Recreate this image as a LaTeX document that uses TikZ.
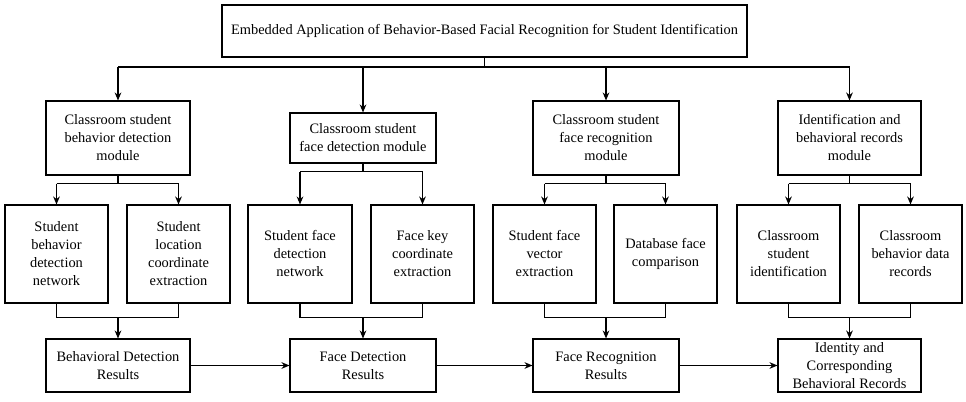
\documentclass[tikz,border=0pt]{standalone}
\usepackage{fontspec}
\setmainfont{Liberation Serif}
\usetikzlibrary{arrows.meta}
\begin{document}
\begin{tikzpicture}[x=0.75pt,y=-0.75pt,
  bx/.style={draw,line width=0.8pt,align=center,inner sep=1pt,font=\fontsize{10.8}{13.5}\selectfont},
  ar/.style={line width=0.8pt,-{Stealth[length=6pt,width=5pt]}},
  ln/.style={line width=0.8pt}]
\useasboundingbox (0,0) rectangle (966,402);
\newcommand\bx[6]{\node[bx,minimum width=#4*0.75pt,minimum height=#5*0.75pt] (#1) at (#2,#3) {#6};}
\bx{top}{484.5}{31}{525}{52}{Embedded Application of Behavior-Based Facial Recognition for Student Identification}
\bx{m1}{118}{138}{144}{74}{Classroom student\\behavior detection\\module}
\bx{m2}{363}{138}{146}{50}{Classroom student\\face detection module}
\bx{m3}{606}{138}{146}{74}{Classroom student\\face recognition\\module}
\bx{m4}{849.5}{138}{143}{74}{Identification and\\behavioral records\\module}
\bx{a1}{56.5}{254}{103}{98}{Student\\behavior\\detection\\network}
\bx{a2}{178.5}{254}{103}{98}{Student\\location\\coordinate\\extraction}
\bx{b1}{300}{254}{104}{98}{Student face\\detection\\network}
\bx{b2}{422.5}{254}{103}{98}{Face key\\coordinate\\extraction}
\bx{c1}{544.5}{254}{103}{98}{Student face\\vector\\extraction}
\bx{c2}{665.5}{254}{103}{98}{Database face\\comparison}
\bx{d1}{788.5}{254}{103}{98}{Classroom\\student\\identification}
\bx{d2}{910.5}{254}{103}{98}{Classroom\\behavior data\\records}
\bx{r1}{118}{365.5}{144}{53}{Behavioral Detection\\Results}
\bx{r2}{363}{365.5}{146}{53}{Face Detection\\Results}
\bx{r3}{606}{365.5}{146}{53}{Face Recognition\\Results}
\bx{r4}{849.5}{365.5}{143}{53}{Identity and\\Corresponding\\Behavioral Records}
\coordinate (h) at (484.5,67);
\draw[ln] (top.south) -- (h);
\draw[ln] (118,67) -- (849.5,67);
\foreach \m in {m1,m2,m3,m4} \draw[ar] (\m.north |- h) -- (\m.north);
\foreach \m/\p/\q/\r in {m1/a1/a2/r1,m2/b1/b2/r2,m3/c1/c2/r3,m4/d1/d2/r4}{
  \draw[ln] (\m.south) -- ++(0,8) coordinate (t);
  \draw[ln] (\p.north |- t) -- (\q.north |- t);
  \draw[ar] (\p.north |- t) -- (\p.north);
  \draw[ar] (\q.north |- t) -- (\q.north);
  \draw[ln] (\p.south) -- ++(0,14) coordinate (u);
  \draw[ln] (\q.south) -- (\q.south |- u);
  \draw[ln] (u) -- (\q.south |- u);
  \draw[ar] (\r.north |- u) -- (\r.north);
}
\draw[ar] (r1) -- (r2);
\draw[ar] (r2) -- (r3);
\draw[ar] (r3) -- (r4);
\end{tikzpicture}
\end{document}
